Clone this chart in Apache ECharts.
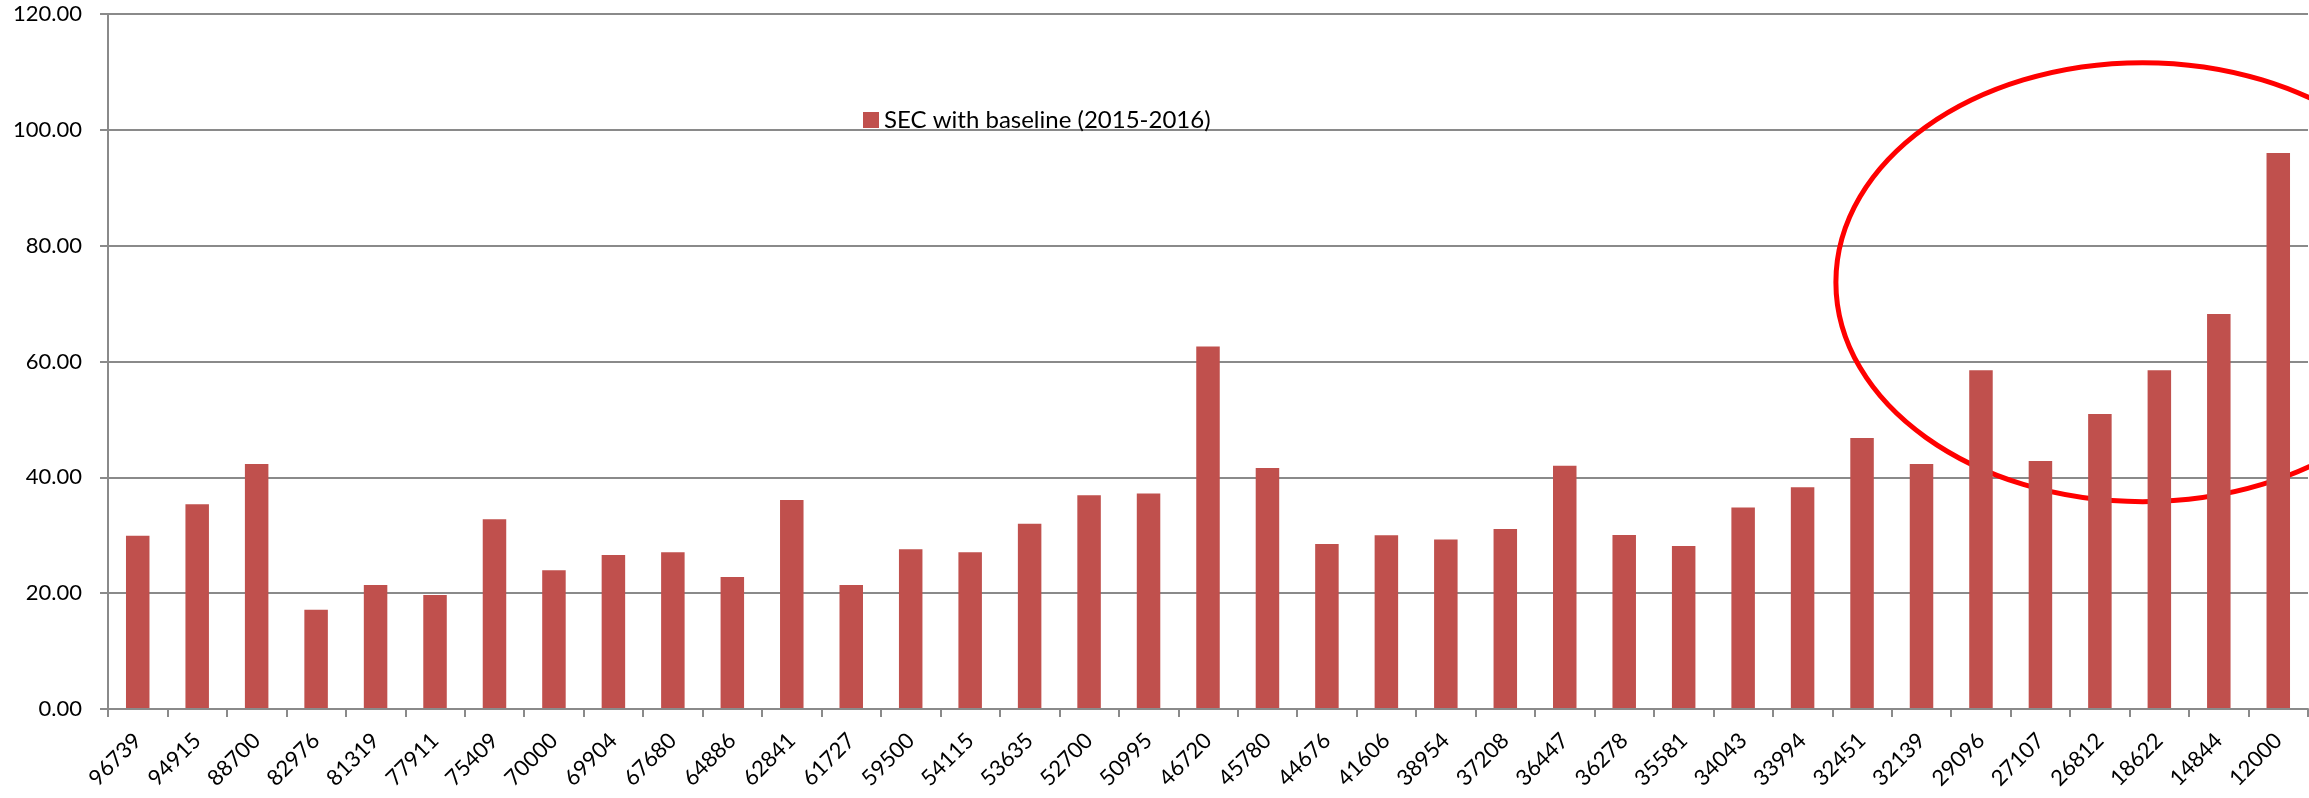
<!DOCTYPE html>
<html>
<head>
<meta charset="utf-8">
<title>SEC with baseline (2015-2016)</title>
<script src="https://cdn.jsdelivr.net/npm/echarts@6/dist/echarts.min.js"></script>
<style>
  html, body { margin: 0; padding: 0; background: #ffffff; }
  #chart { width: 2309px; height: 798px; }
</style>
</head>
<body>
<div id="chart"></div>
<script>
// Plant identifiers along the category axis
const categories = [
  '96739', '94915', '88700', '82976', '81319', '77911', '75409', '70000', '69904',
  '67680', '64886', '62841', '61727', '59500', '54115', '53635', '52700', '50995',
  '46720', '45780', '44676', '41606', '38954', '37208', '36447', '36278', '35581',
  '34043', '33994', '32451', '32139', '29096', '27107', '26812', '18622', '14844', '12000'
];

// Specific energy consumption against the 2015-2016 baseline
const secBaseline = [
  29.9, 35.35, 42.3, 17.15, 21.4, 19.7, 32.75, 23.95, 26.6,
  27.05, 22.8, 36.1, 21.4, 27.6, 27.05, 32.0, 36.9, 37.2,
  62.6, 41.6, 28.5, 30.0, 29.25, 31.1, 42.0, 30.05, 28.15,
  34.8, 38.3, 46.8, 42.3, 58.5, 42.8, 50.95, 58.5, 68.2, 96.0
];

// Value axis ticks
const yTickValues = [0, 20, 40, 60, 80, 100, 120];

const seriesName = 'SEC with baseline (2015-2016)';

// Red ring around the smallest plants: centre near "18622", in axis units
const ring = { category: 34, shift: -0.28, value: 73.7, halfCategories: 5.16, halfValue: 37.9 };

const FONT = 'Lato, "Liberation Sans", sans-serif';
const GRID_GRAY = '#8a8a8a';

const chart = echarts.init(document.getElementById('chart'));

chart.setOption({
  animation: false,
  legend: {
    data: [seriesName],
    left: 858,
    top: 103,
    itemWidth: 16,
    itemHeight: 16,
    icon: 'rect',
    textStyle: { fontFamily: FONT, fontSize: 24, color: '#000000' }
  },
  grid: { left: 108, right: 1, top: 14, bottom: 89 },
  xAxis: {
    type: 'category',
    data: categories,
    z: 3,
    axisLine: { show: true, lineStyle: { color: GRID_GRAY, width: 2 } },
    axisTick: { show: true, length: 8, alignWithLabel: false, lineStyle: { color: GRID_GRAY, width: 2 } },
    axisLabel: {
      interval: 0,
      rotate: 45,
      margin: 28,
      fontFamily: FONT,
      fontSize: 22,
      color: '#000000'
    }
  },
  yAxis: {
    type: 'value',
    min: yTickValues[0],
    max: yTickValues[yTickValues.length - 1],
    interval: yTickValues[1] - yTickValues[0],
    axisLine: { show: true, lineStyle: { color: GRID_GRAY, width: 2 } },
    axisTick: { show: true, length: 8, lineStyle: { color: GRID_GRAY, width: 2 } },
    axisLabel: {
      margin: 26,
      fontFamily: FONT,
      fontSize: 22,
      color: '#000000',
      formatter: v => v.toFixed(2)
    },
    splitLine: { show: true, lineStyle: { color: GRID_GRAY, width: 2 } }
  },
  series: [
    {
      name: 'ring',
      type: 'custom',
      z: 1,
      silent: true,
      data: [[ring.category, ring.value]],
      renderItem: (params, api) => {
        const c = api.coord([api.value(0), api.value(1)]);
        const s = api.size([1, ring.halfValue]);
        return {
          type: 'ellipse',
          shape: {
            cx: c[0] + ring.shift * s[0],
            cy: c[1],
            rx: ring.halfCategories * s[0],
            ry: s[1]
          },
          style: { fill: 'rgba(0,0,0,0)', stroke: '#ff0000', lineWidth: 5 }
        };
      }
    },
    {
      name: seriesName,
      type: 'bar',
      data: secBaseline,
      barWidth: 23.5,
      itemStyle: { color: '#C0504D' },
      z: 2
    }
  ]
});
</script>
</body>
</html>
